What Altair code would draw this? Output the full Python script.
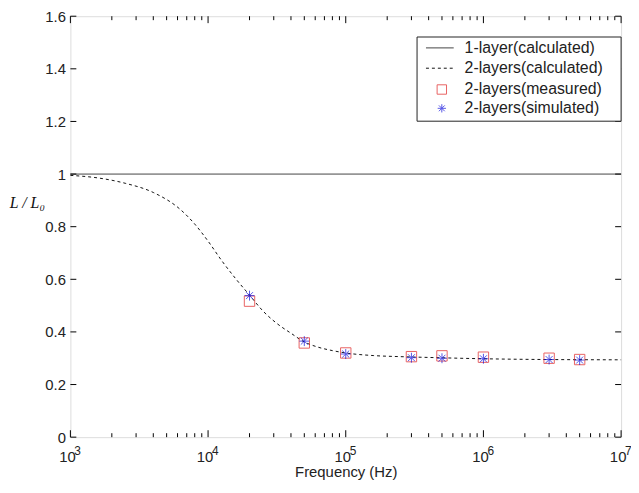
import altair as alt
import pandas as pd

# ---- data ----
calc_freq = [1e3, 1.6e3, 2.5e3, 4e3, 6.3e3, 8e3, 1e4, 1.26e4, 1.6e4, 2e4, 2.5e4, 3.2e4, 4e4, 5e4, 6.3e4, 8e4,
             1e5, 1.6e5, 2.5e5, 4e5, 1e6, 3e6, 1e7]
calc_two = [0.995, 0.985, 0.965, 0.93, 0.865, 0.81, 0.745, 0.67, 0.60, 0.54, 0.48, 0.43, 0.395, 0.362, 0.342, 0.329,
            0.320, 0.310, 0.306, 0.303, 0.298, 0.295, 0.294]
one_freq = [1e3, 1e7]
one_val = [1.0, 1.0]
meas_freq = [2e4, 5e4, 1e5, 3e5, 5e5, 1e6, 3e6, 5e6]
meas_val = [0.517, 0.358, 0.320, 0.306, 0.309, 0.304, 0.300, 0.295]
sim_freq = [2e4, 5e4, 1e5, 3e5, 5e5, 1e6, 3e6, 5e6]
sim_val = [0.538, 0.365, 0.316, 0.302, 0.300, 0.298, 0.295, 0.293]

x_major = [1e3, 1e4, 1e5, 1e6, 1e7]
x_bases = ["10", "10", "10", "10", "10"]
x_exponents = ["3", "4", "5", "6", "7"]
x_minor = [k * 10 ** d for d in range(3, 7) for k in range(2, 10)]
y_ticks = [0, 0.2, 0.4, 0.6, 0.8, 1.0, 1.2, 1.4, 1.6]
legend_labels = ["1-layer(calculated)", "2-layers(calculated)", "2-layers(measured)", "2-layers(simulated)"]

W, H = 556, 425
FONT = "Liberation Sans"
STAR = "M0,-1L0,1M-1,0L1,0M-0.7,-0.7L0.7,0.7M-0.7,0.7L0.7,-0.7"

xscale = alt.Scale(type="log", domain=[1e3, 1e7], nice=False)
yscale = alt.Scale(domain=[0, 1.6], nice=False, zero=False)

xaxis = alt.Axis(values=x_major, tickSize=0, domain=False, grid=False, labels=False,
                 title="Frequency (Hz)", titleFont=FONT, titleFontSize=15, titleFontWeight="normal",
                 titleColor="#222", titleY=28, titleBaseline="top")
yaxis = alt.Axis(values=y_ticks, tickSize=0, domain=False, grid=False, labelFont=FONT, labelFontSize=15,
                 labelColor="#222", labelPadding=5, format="~g",
                 title="L / L₀", titleAngle=0, titleX=-44, titleY=188, titleFont="Liberation Serif",
                 titleFontStyle="italic", titleFontSize=16, titleFontWeight="normal", titleColor="#111",
                 titleAlign="center", titleBaseline="middle")

one_df = pd.DataFrame({"f": one_freq, "v": one_val})
calc_df = pd.DataFrame({"f": calc_freq, "v": calc_two})
meas_df = pd.DataFrame({"f": meas_freq, "v": meas_val})
sim_df = pd.DataFrame({"f": sim_freq, "v": sim_val})

X = alt.X("f:Q", scale=xscale, axis=xaxis)
Y = alt.Y("v:Q", scale=yscale, axis=yaxis)

one = alt.Chart(one_df).mark_line(color="#444", strokeWidth=1).encode(x=X, y=Y)
two = alt.Chart(calc_df).mark_line(color="#111", strokeWidth=1, strokeDash=[3, 3], interpolate="monotone").encode(
    x=alt.X("f:Q", scale=xscale), y=alt.Y("v:Q", scale=yscale))
meas = alt.Chart(meas_df).mark_point(shape="square", filled=False, color="#e02020", size=110, strokeWidth=1).encode(
    x=alt.X("f:Q", scale=xscale), y=alt.Y("v:Q", scale=yscale))
sim = alt.Chart(sim_df).mark_point(shape=STAR, filled=False, color="#1010dd", size=100, strokeWidth=1).encode(
    x=alt.X("f:Q", scale=xscale), y=alt.Y("v:Q", scale=yscale))

# x tick labels: "10" with a raised exponent
lab_df = pd.DataFrame({"f": x_major, "b": x_bases, "e": x_exponents})
bases = alt.Chart(lab_df).mark_text(align="center", baseline="alphabetic", font=FONT, fontSize=15, color="#222",
                                    dx=-3).encode(x=alt.X("f:Q", scale=xscale), y=alt.value(H + 25), text="b:N")
exps = alt.Chart(lab_df).mark_text(align="left", baseline="alphabetic", font=FONT, fontSize=12, color="#222",
                                   dx=4).encode(x=alt.X("f:Q", scale=xscale), y=alt.value(H + 18), text="e:N")

# inward ticks (MATLAB style)
xmaj_df = pd.DataFrame({"f": x_major})
xmin_df = pd.DataFrame({"f": x_minor})
y_df = pd.DataFrame({"v": y_ticks})
tx = alt.X("f:Q", scale=xscale)
ty = alt.Y("v:Q", scale=yscale)
ticks = [
    alt.Chart(xmaj_df).mark_rule(color="black").encode(x=tx, y=alt.value(H), y2=alt.value(H - 7)),
    alt.Chart(xmaj_df).mark_rule(color="black").encode(x=tx, y=alt.value(0), y2=alt.value(7)),
    alt.Chart(xmin_df).mark_rule(color="black").encode(x=tx, y=alt.value(H), y2=alt.value(H - 4)),
    alt.Chart(xmin_df).mark_rule(color="black").encode(x=tx, y=alt.value(0), y2=alt.value(4)),
    alt.Chart(y_df).mark_rule(color="black").encode(y=ty, x=alt.value(0), x2=alt.value(6)),
    alt.Chart(y_df).mark_rule(color="black").encode(y=ty, x=alt.value(W), x2=alt.value(W - 6)),
]

# legend
lx0, lx1, ly0, ly1 = 350, W, 21, 106
rows = [32, 52.5, 74, 93]
leg_box = alt.Chart(pd.DataFrame({"a": [0]})).mark_rect(fill="white", stroke="#222", strokeWidth=1).encode(
    x=alt.value(lx0), x2=alt.value(lx1), y=alt.value(ly0), y2=alt.value(ly1))
leg = [leg_box,
       alt.Chart(pd.DataFrame({"a": [0]})).mark_rule(color="#444", strokeWidth=1).encode(
           x=alt.value(359), x2=alt.value(387), y=alt.value(rows[0])),
       alt.Chart(pd.DataFrame({"a": [0]})).mark_rule(color="#111", strokeWidth=1, strokeDash=[3, 3]).encode(
           x=alt.value(359), x2=alt.value(387), y=alt.value(rows[1])),
       alt.Chart(pd.DataFrame({"a": [0]})).mark_point(shape="square", filled=False, color="#e02020", size=90,
                                                     strokeWidth=1).encode(x=alt.value(375), y=alt.value(rows[2])),
       alt.Chart(pd.DataFrame({"a": [0]})).mark_point(shape=STAR, filled=False, color="#1010dd", size=70,
                                                     strokeWidth=1).encode(x=alt.value(375), y=alt.value(rows[3])),
       ]
for lab, ry in zip(legend_labels, rows):
    leg.append(alt.Chart(pd.DataFrame({"t": [lab]})).mark_text(
        align="left", baseline="middle", font=FONT, fontSize=16, color="#222").encode(
        x=alt.value(398), y=alt.value(ry), text="t:N"))

chart = alt.layer(one, two, *ticks, meas, sim, bases, exps, *leg).properties(
    width=W, height=H,
    autosize=alt.AutoSizeParams(type="none"),
    padding={"left": 63, "top": 6, "right": 10, "bottom": 44},
).configure_view(stroke="black", strokeWidth=1).configure(background="white")

chart.save("out.html", embed_options={"renderer": "svg", "actions": False})
